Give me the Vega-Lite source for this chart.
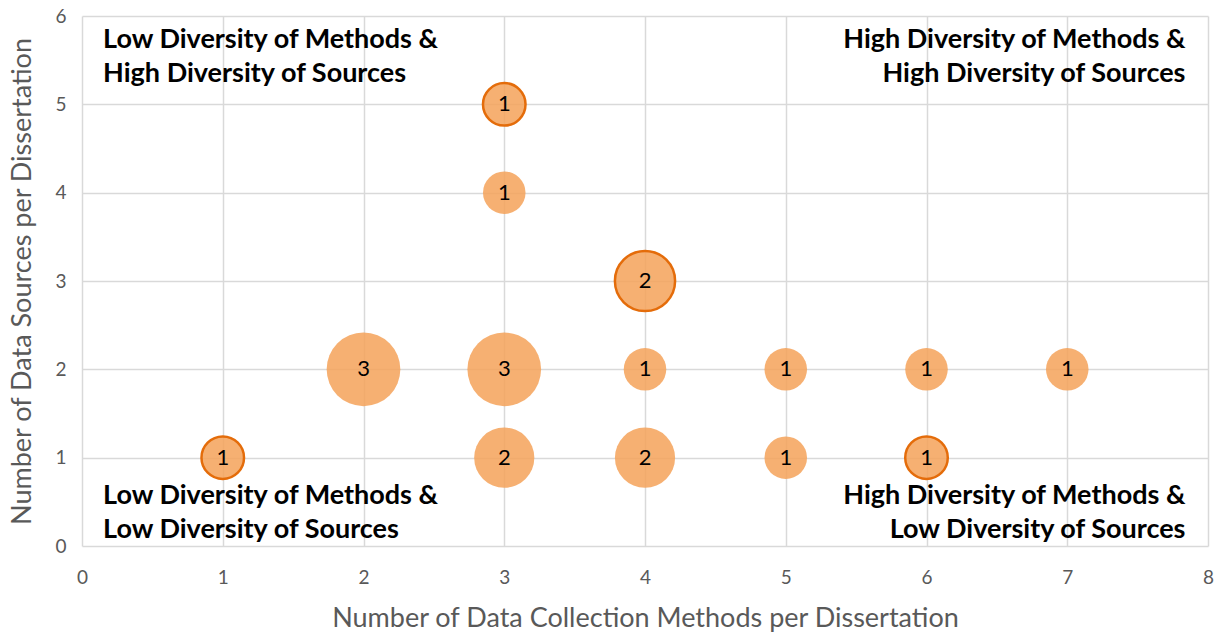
{
  "$schema": "https://vega.github.io/schema/vega-lite/v6.json",
  "autosize": {"type": "none"},
  "padding": {"left": 82, "top": 16, "right": 10, "bottom": 89},
  "width": 1126,
  "height": 530,
  "background": "white",
  "config": {
    "view": {"stroke": null},
    "font": "Lato",
    "axis": {
      "labelFont": "Lato",
      "titleFont": "Lato",
      "labelColor": "#595959",
      "titleColor": "#595959",
      "labelFontSize": 19,
      "titleFontSize": 27,
      "titleFontWeight": "normal",
      "gridColor": "#D9D9D9",
      "gridWidth": 1.5,
      "domain": false,
      "ticks": false,
      "labelFlush": false
    }
  },
  "datasets": {
    "bubbles": [
      {"methods": 1, "sources": 1, "count": 1, "highlighted": true},
      {"methods": 2, "sources": 2, "count": 3, "highlighted": false},
      {"methods": 3, "sources": 1, "count": 2, "highlighted": false},
      {"methods": 3, "sources": 2, "count": 3, "highlighted": false},
      {"methods": 3, "sources": 4, "count": 1, "highlighted": false},
      {"methods": 3, "sources": 5, "count": 1, "highlighted": true},
      {"methods": 4, "sources": 1, "count": 2, "highlighted": false},
      {"methods": 4, "sources": 2, "count": 1, "highlighted": false},
      {"methods": 4, "sources": 3, "count": 2, "highlighted": true},
      {"methods": 5, "sources": 1, "count": 1, "highlighted": false},
      {"methods": 5, "sources": 2, "count": 1, "highlighted": false},
      {"methods": 6, "sources": 1, "count": 1, "highlighted": true},
      {"methods": 6, "sources": 2, "count": 1, "highlighted": false},
      {"methods": 7, "sources": 2, "count": 1, "highlighted": false}
    ],
    "quadrants": [
      {"label": "Low Diversity of Methods &\nHigh Diversity of Sources", "x": 0.15, "y": 5.728, "side": "left"},
      {"label": "High Diversity of Methods &\nHigh Diversity of Sources", "x": 7.84, "y": 5.728, "side": "right"},
      {"label": "Low Diversity of Methods &\nLow Diversity of Sources", "x": 0.15, "y": 0.566, "side": "left"},
      {"label": "High Diversity of Methods &\nLow Diversity of Sources", "x": 7.84, "y": 0.566, "side": "right"}
    ]
  },
  "layer": [
    {
      "data": {"name": "bubbles"},
      "mark": {"type": "circle", "fill": "#F4A259", "fillOpacity": 0.85, "opacity": 1},
      "encoding": {
        "x": {"field": "methods", "type": "quantitative", "scale": {"domain": [0, 8], "nice": false}, "axis": {"values": [0,1,2,3,4,5,6,7,8], "format": "d", "title": "Number of Data Collection Methods per Dissertation", "labelPadding": 22, "titlePadding": 18}},
        "y": {"field": "sources", "type": "quantitative", "scale": {"domain": [0, 6], "nice": false}, "axis": {"values": [0,1,2,3,4,5,6], "format": "d", "title": "Number of Data Sources per Dissertation", "labelPadding": 16, "titlePadding": 18}},
        "size": {"field": "count", "type": "quantitative", "scale": {"type": "linear", "domain": [0, 3], "range": [0, 5430]}, "legend": null},
        "stroke": {"condition": {"test": "datum.highlighted", "value": "#E46C0A"}, "value": null},
        "strokeWidth": {"value": 2.5}
      }
    },
    {
      "mark": {"type": "rule", "color": "#7F7F7F", "strokeWidth": 2.5},
      "encoding": {"x": {"datum": 3.5}}
    },
    {
      "mark": {"type": "rule", "color": "#7F7F7F", "strokeWidth": 2.5},
      "encoding": {"y": {"datum": 2.5}}
    },
    {
      "data": {"name": "bubbles"},
      "mark": {"type": "text", "fontSize": 22, "color": "black", "baseline": "middle", "align": "center", "font": "Lato"},
      "encoding": {
        "x": {"field": "methods", "type": "quantitative"},
        "y": {"field": "sources", "type": "quantitative"},
        "text": {"field": "count", "type": "quantitative"}
      }
    },
    {
      "data": {"name": "quadrants"},
      "transform": [{"filter": "datum.side === 'left'"}],
      "mark": {"type": "text", "fontSize": 27, "fontWeight": "bold", "color": "black", "align": "left", "baseline": "middle", "lineBreak": "\n", "lineHeight": 34, "font": "Lato"},
      "encoding": {
        "x": {"field": "x", "type": "quantitative"},
        "y": {"field": "y", "type": "quantitative"},
        "text": {"field": "label"}
      }
    },
    {
      "data": {"name": "quadrants"},
      "transform": [{"filter": "datum.side === 'right'"}],
      "mark": {"type": "text", "fontSize": 27, "fontWeight": "bold", "color": "black", "align": "right", "baseline": "middle", "lineBreak": "\n", "lineHeight": 34, "font": "Lato"},
      "encoding": {
        "x": {"field": "x", "type": "quantitative"},
        "y": {"field": "y", "type": "quantitative"},
        "text": {"field": "label"}
      }
    }
  ]
}
